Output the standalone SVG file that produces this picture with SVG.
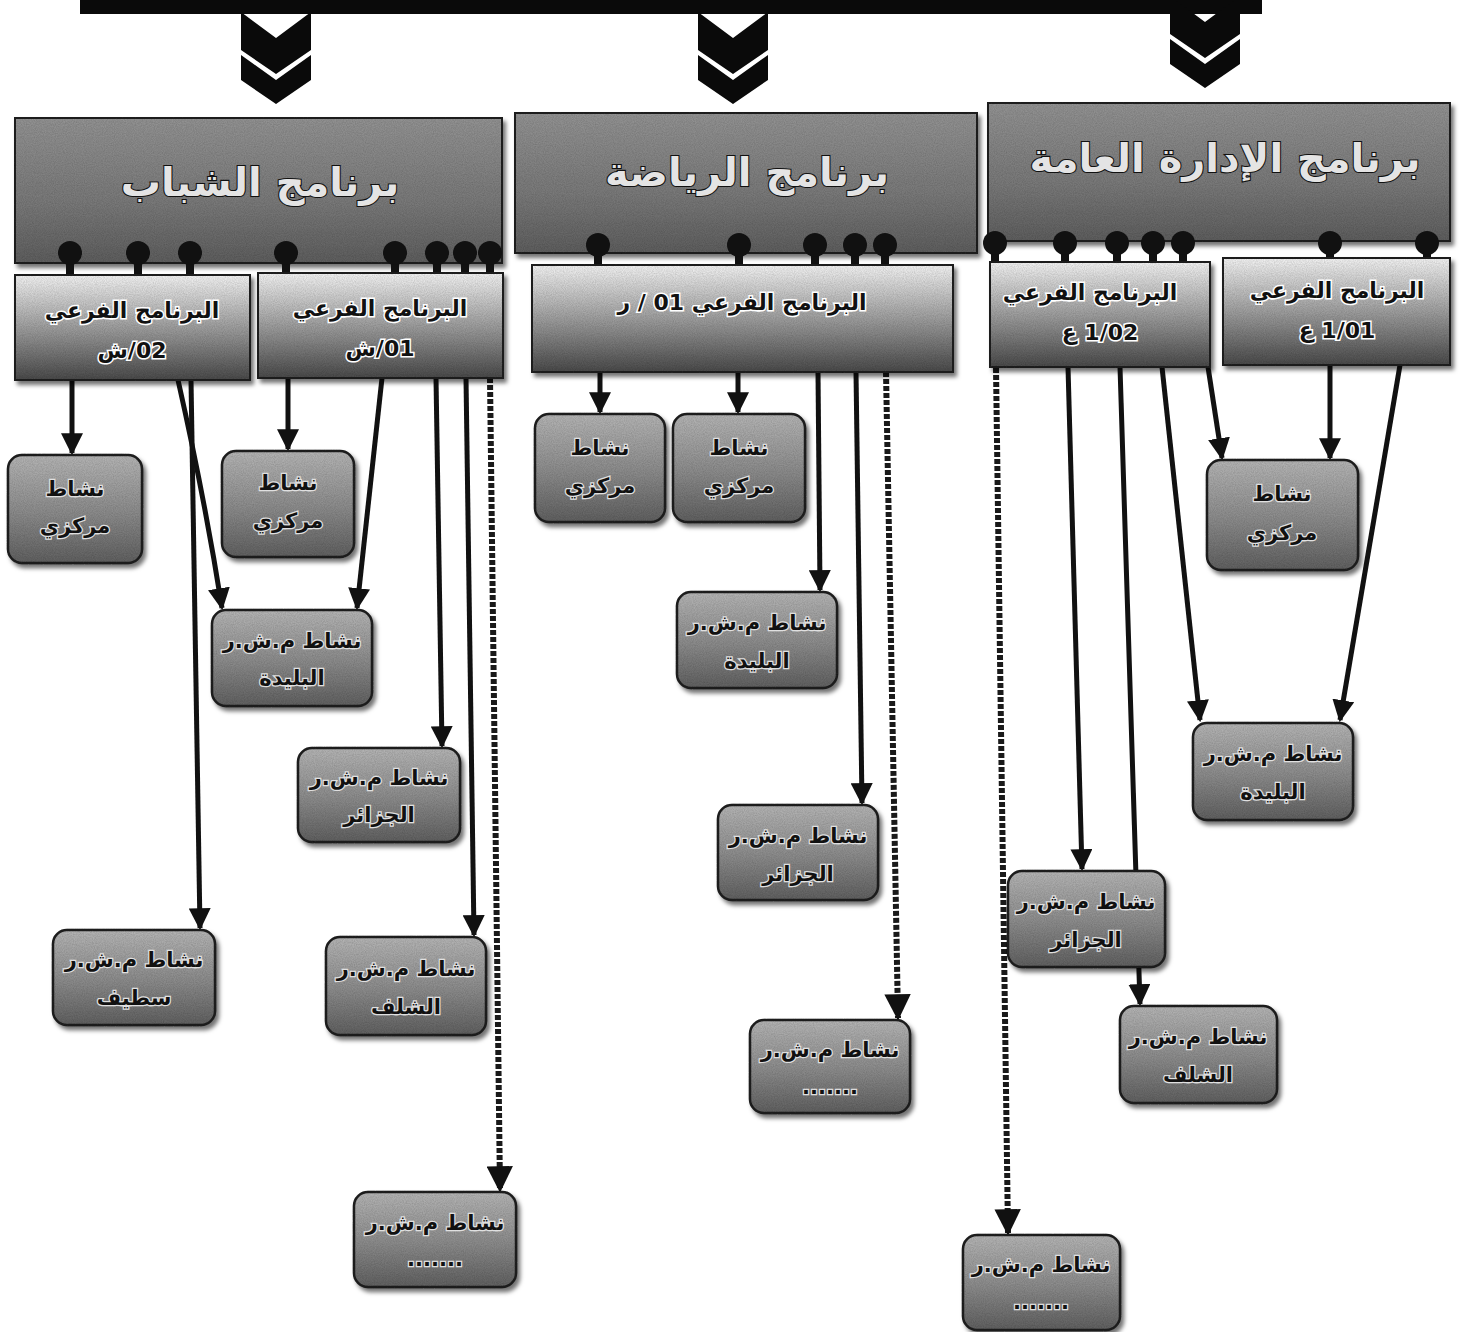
<svg xmlns="http://www.w3.org/2000/svg" width="1460" height="1332" viewBox="0 0 1460 1332">
<defs>
<linearGradient id="gHead" x1="0" y1="0" x2="0" y2="1">
<stop offset="0" stop-color="#929292"/><stop offset="0.6" stop-color="#787878"/><stop offset="1" stop-color="#5e5e5e"/>
</linearGradient>
<linearGradient id="gSub" x1="0" y1="0" x2="0" y2="1">
<stop offset="0" stop-color="#f2f2f2"/><stop offset="0.45" stop-color="#a6a6a6"/><stop offset="1" stop-color="#4a4a4a"/>
</linearGradient>
<linearGradient id="gAct" x1="0" y1="0" x2="0" y2="1">
<stop offset="0" stop-color="#b4b4b4"/><stop offset="0.5" stop-color="#8e8e8e"/><stop offset="1" stop-color="#606060"/>
</linearGradient>
<filter id="sh" x="-10%" y="-10%" width="125%" height="130%">
<feDropShadow dx="3" dy="4" stdDeviation="2" flood-color="#000" flood-opacity="0.55" result="s"/>
<feTurbulence type="fractalNoise" baseFrequency="0.9" numOctaves="2" seed="3" result="n"/>
<feColorMatrix in="n" type="matrix" values="0 0 0 0 0  0 0 0 0 0  0 0 0 0 0  0 0 0 0.45 -0.12" result="na"/>
<feComposite in="na" in2="SourceAlpha" operator="in" result="g"/>
<feMerge><feMergeNode in="s"/><feMergeNode in="g"/></feMerge>
</filter>
<marker id="ah" viewBox="0 0 10 10" refX="9" refY="5" markerWidth="4.4" markerHeight="4.4" orient="auto" markerUnits="strokeWidth">
<path d="M0,0 L10,5 L0,10 z" fill="#111"/>
</marker>
</defs>
<style>
.head{fill:url(#gHead);stroke:#222;stroke-width:2;filter:url(#sh)}
.sub{fill:url(#gSub);stroke:#222;stroke-width:2;filter:url(#sh)}
.act{fill:url(#gAct);stroke:#222;stroke-width:2.5;filter:url(#sh)}
.ht{font-family:"DejaVu Sans",sans-serif;font-weight:bold;font-size:40px;fill:#e4e4e4;stroke:#111;stroke-width:2.2;paint-order:stroke;text-anchor:middle}
.st{font-family:"DejaVu Sans",sans-serif;font-weight:bold;font-size:22px;fill:#111;stroke:#fff;stroke-width:3;paint-order:stroke;text-anchor:middle}
.at{font-family:"DejaVu Sans",sans-serif;font-weight:bold;font-size:21px;fill:#111;stroke:#e0e0e0;stroke-width:2.5;paint-order:stroke;text-anchor:middle}
.ln{stroke:#111;stroke-width:5;fill:none;marker-end:url(#ah)}
.dl{stroke:#1a1a1a;stroke-width:6;fill:none;stroke-dasharray:5 2;marker-end:url(#ah)}
.dot{fill:#111}
.stem{stroke:#111;stroke-width:8}
.chev{fill:#0a0a0a}
</style>

<g id="top-bar">
<rect x="80" y="0" width="1182" height="14" fill="#0a0a0a"/>
<polygon class="chev" points="241,12 276,38 311,12 311,50 276,74 241,50"/>
<polygon class="chev" points="241,55 276,80 311,55 311,80 276,104 241,80"/>
<polygon class="chev" points="698,12 733,38 768,12 768,50 733,74 698,50"/>
<polygon class="chev" points="698,55 733,80 768,55 768,80 733,104 698,80"/>
<polygon class="chev" points="1170,-4 1205,22 1240,-4 1240,34 1205,58 1170,34"/>
<polygon class="chev" points="1170,39 1205,64 1240,39 1240,64 1205,88 1170,64"/>
</g>

<g id="connectors">
<line class="ln" x1="72" y1="380" x2="72" y2="453"/>
<path class="ln" d="M178,380 Q205,500 222,608"/>
<line class="ln" x1="191" y1="380" x2="200" y2="928"/>
<line class="ln" x1="288" y1="378" x2="288" y2="449"/>
<line class="ln" x1="382" y1="378" x2="357" y2="608"/>
<line class="ln" x1="436" y1="378" x2="442" y2="746"/>
<line class="ln" x1="466" y1="378" x2="474" y2="935"/>
<line class="dl" x1="490" y1="378" x2="500" y2="1190"/>
<line class="ln" x1="600" y1="372" x2="600" y2="412"/>
<line class="ln" x1="738" y1="372" x2="738" y2="412"/>
<line class="ln" x1="818" y1="372" x2="820" y2="590"/>
<line class="ln" x1="856" y1="372" x2="862" y2="803"/>
<line class="dl" x1="886" y1="372" x2="898" y2="1018"/>
<line class="dl" x1="996" y1="368" x2="1008" y2="1233"/>
<line class="ln" x1="1068" y1="367" x2="1082" y2="869"/>
<line class="ln" x1="1120" y1="367" x2="1140" y2="1004"/>
<line class="ln" x1="1162" y1="367" x2="1200" y2="720"/>
<line class="ln" x1="1208" y1="367" x2="1222" y2="458"/>
<line class="ln" x1="1330" y1="365" x2="1330" y2="458"/>
<line class="ln" x1="1400" y1="365" x2="1340" y2="720"/>
</g>

<g id="prog-youth">
<rect class="head" x="15" y="118" width="487" height="145"/>
<text class="ht" x="260" y="196" direction="rtl">برنامج الشباب</text>
</g>
<g id="prog-sport">
<rect class="head" x="515" y="113" width="462" height="140"/>
<text class="ht" x="747" y="186" direction="rtl">برنامج الرياضة</text>
</g>
<g id="prog-admin">
<rect class="head" x="988" y="103" width="462" height="138"/>
<text class="ht" x="1225" y="172" direction="rtl">برنامج الإدارة العامة</text>
</g>

<g id="link-stems">
<line class="stem" x1="70" y1="253" x2="70" y2="276"/>
<line class="stem" x1="138" y1="253" x2="138" y2="276"/>
<line class="stem" x1="190" y1="253" x2="190" y2="276"/>
<line class="stem" x1="286" y1="253" x2="286" y2="274"/>
<line class="stem" x1="395" y1="253" x2="395" y2="274"/>
<line class="stem" x1="437" y1="253" x2="437" y2="274"/>
<line class="stem" x1="465" y1="253" x2="465" y2="274"/>
<line class="stem" x1="490" y1="253" x2="490" y2="274"/>
<line class="stem" x1="598" y1="245" x2="598" y2="266"/>
<line class="stem" x1="739" y1="245" x2="739" y2="266"/>
<line class="stem" x1="815" y1="245" x2="815" y2="266"/>
<line class="stem" x1="855" y1="245" x2="855" y2="266"/>
<line class="stem" x1="885" y1="245" x2="885" y2="266"/>
<line class="stem" x1="995" y1="243" x2="995" y2="263"/>
<line class="stem" x1="1065" y1="243" x2="1065" y2="263"/>
<line class="stem" x1="1117" y1="243" x2="1117" y2="263"/>
<line class="stem" x1="1153" y1="243" x2="1153" y2="263"/>
<line class="stem" x1="1183" y1="243" x2="1183" y2="263"/>
<line class="stem" x1="1330" y1="243" x2="1330" y2="259"/>
<line class="stem" x1="1427" y1="243" x2="1427" y2="259"/>
<circle class="dot" cx="70" cy="253" r="12"/>
<circle class="dot" cx="138" cy="253" r="12"/>
<circle class="dot" cx="190" cy="253" r="12"/>
<circle class="dot" cx="286" cy="253" r="12"/>
<circle class="dot" cx="395" cy="253" r="12"/>
<circle class="dot" cx="437" cy="253" r="12"/>
<circle class="dot" cx="465" cy="253" r="12"/>
<circle class="dot" cx="490" cy="253" r="12"/>
<circle class="dot" cx="598" cy="245" r="12"/>
<circle class="dot" cx="739" cy="245" r="12"/>
<circle class="dot" cx="815" cy="245" r="12"/>
<circle class="dot" cx="855" cy="245" r="12"/>
<circle class="dot" cx="885" cy="245" r="12"/>
<circle class="dot" cx="995" cy="243" r="12"/>
<circle class="dot" cx="1065" cy="243" r="12"/>
<circle class="dot" cx="1117" cy="243" r="12"/>
<circle class="dot" cx="1153" cy="243" r="12"/>
<circle class="dot" cx="1183" cy="243" r="12"/>
<circle class="dot" cx="1330" cy="243" r="12"/>
<circle class="dot" cx="1427" cy="243" r="12"/>
</g>

<g id="sub-sh02">
<rect class="sub" x="15" y="275" width="235" height="105"/>
<text class="st" x="132" y="318" direction="rtl">البرنامج الفرعي</text>
<text class="st" x="132" y="358" direction="rtl">02/ش</text>
</g>
<g id="sub-sh01">
<rect class="sub" x="258" y="273" width="245" height="105"/>
<text class="st" x="380" y="316" direction="rtl">البرنامج الفرعي</text>
<text class="st" x="380" y="356" direction="rtl">01/ش</text>
</g>
<g id="sub-r01">
<rect class="sub" x="532" y="265" width="421" height="107"/>
<text class="st" x="742" y="310" direction="rtl">البرنامج الفرعي 01 / ر</text>
</g>
<g id="sub-a02">
<rect class="sub" x="990" y="262" width="220" height="105"/>
<text class="st" x="1090" y="300" direction="rtl">البرنامج الفرعي</text>
<text class="st" x="1100" y="340" direction="rtl">1/02 ع</text>
</g>
<g id="sub-a01">
<rect class="sub" x="1223" y="258" width="227" height="107"/>
<text class="st" x="1337" y="298" direction="rtl">البرنامج الفرعي</text>
<text class="st" x="1337" y="338" direction="rtl">1/01 ع</text>
</g>

<g id="act-1">
<rect class="act" x="8" y="455" width="134" height="108" rx="14"/>
<text class="at" x="75" y="496" direction="rtl">نشاط</text>
<text class="at" x="75" y="533" direction="rtl">مركزي</text>
</g>
<g id="act-2">
<rect class="act" x="222" y="451" width="132" height="106" rx="14"/>
<text class="at" x="288" y="490" direction="rtl">نشاط</text>
<text class="at" x="288" y="528" direction="rtl">مركزي</text>
</g>
<g id="act-3">
<rect class="act" x="212" y="610" width="160" height="96" rx="14"/>
<text class="at" x="292" y="648" direction="rtl">نشاط م.ش.ر</text>
<text class="at" x="292" y="685" direction="rtl">البليدة</text>
</g>
<g id="act-4">
<rect class="act" x="298" y="748" width="162" height="94" rx="14"/>
<text class="at" x="379" y="785" direction="rtl">نشاط م.ش.ر</text>
<text class="at" x="379" y="822" direction="rtl">الجزائر</text>
</g>
<g id="act-5">
<rect class="act" x="53" y="930" width="162" height="95" rx="14"/>
<text class="at" x="134" y="967" direction="rtl">نشاط م.ش.ر</text>
<text class="at" x="134" y="1005" direction="rtl">سطيف</text>
</g>
<g id="act-6">
<rect class="act" x="326" y="937" width="160" height="98" rx="14"/>
<text class="at" x="406" y="976" direction="rtl">نشاط م.ش.ر</text>
<text class="at" x="406" y="1014" direction="rtl">الشلف</text>
</g>
<g id="act-7">
<rect class="act" x="354" y="1192" width="162" height="95" rx="14"/>
<text class="at" x="435" y="1230" direction="rtl">نشاط م.ش.ر</text>
<text class="at" x="435" y="1266">.......</text>
</g>
<g id="act-8">
<rect class="act" x="535" y="414" width="130" height="108" rx="14"/>
<text class="at" x="600" y="455" direction="rtl">نشاط</text>
<text class="at" x="600" y="493" direction="rtl">مركزي</text>
</g>
<g id="act-9">
<rect class="act" x="673" y="414" width="132" height="108" rx="14"/>
<text class="at" x="739" y="455" direction="rtl">نشاط</text>
<text class="at" x="739" y="493" direction="rtl">مركزي</text>
</g>
<g id="act-10">
<rect class="act" x="677" y="592" width="160" height="96" rx="14"/>
<text class="at" x="757" y="630" direction="rtl">نشاط م.ش.ر</text>
<text class="at" x="757" y="668" direction="rtl">البليدة</text>
</g>
<g id="act-11">
<rect class="act" x="718" y="805" width="160" height="95" rx="14"/>
<text class="at" x="798" y="843" direction="rtl">نشاط م.ش.ر</text>
<text class="at" x="798" y="881" direction="rtl">الجزائر</text>
</g>
<g id="act-12">
<rect class="act" x="750" y="1020" width="160" height="93" rx="14"/>
<text class="at" x="830" y="1057" direction="rtl">نشاط م.ش.ر</text>
<text class="at" x="830" y="1094">.......</text>
</g>
<g id="act-13">
<rect class="act" x="1207" y="460" width="151" height="110" rx="14"/>
<text class="at" x="1282" y="501" direction="rtl">نشاط</text>
<text class="at" x="1282" y="540" direction="rtl">مركزي</text>
</g>
<g id="act-14">
<rect class="act" x="1193" y="723" width="160" height="97" rx="14"/>
<text class="at" x="1273" y="761" direction="rtl">نشاط م.ش.ر</text>
<text class="at" x="1273" y="799" direction="rtl">البليدة</text>
</g>
<g id="act-15">
<rect class="act" x="1008" y="871" width="157" height="96" rx="14"/>
<text class="at" x="1086" y="909" direction="rtl">نشاط م.ش.ر</text>
<text class="at" x="1086" y="947" direction="rtl">الجزائر</text>
</g>
<g id="act-16">
<rect class="act" x="1120" y="1006" width="157" height="97" rx="14"/>
<text class="at" x="1198" y="1044" direction="rtl">نشاط م.ش.ر</text>
<text class="at" x="1198" y="1082" direction="rtl">الشلف</text>
</g>
<g id="act-17">
<rect class="act" x="963" y="1235" width="157" height="95" rx="14"/>
<text class="at" x="1041" y="1272" direction="rtl">نشاط م.ش.ر</text>
<text class="at" x="1041" y="1309">.......</text>
</g>
</svg>
